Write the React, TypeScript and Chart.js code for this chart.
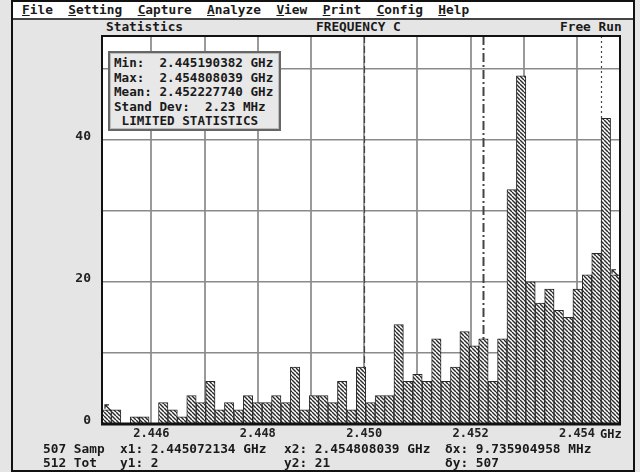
import { useEffect, useRef } from "react";
import { Chart, registerables } from "chart.js";

Chart.register(...registerables);

// ---- data ----
const binCounts = [
  2, 2, 0, 1, 1, 0, 3, 2, 1, 4, 3, 6, 2, 3,
  2, 4, 3, 3, 4, 3, 8, 2, 4, 4, 3, 6, 2, 8,
  3, 4, 4, 14, 6, 7, 6, 12, 6, 8, 13, 11, 12,
  6, 12, 33, 49, 20, 17, 19, 16, 15, 19, 21, 24, 43, 21,
];
const binLabels = binCounts.map((_, i) => `bin ${i + 1}`);
const freqStartGHz = 2.445072134; // x1
const freqEndGHz = 2.454808039; // x2
const gridFreqs = [2.446, 2.447, 2.448, 2.449, 2.45, 2.451, 2.452, 2.453, 2.454];
const xTickFreqs = [2.446, 2.448, 2.45, 2.452, 2.454];
const yGridValues = [0, 10, 20, 30, 40, 50];
const yTickLabels = [0, 20, 40];
const yMax = 54.6;
const statMeanGHz = 2.45222774;
const statStdGHz = 0.00223;
const menuItems = ["File", "Setting", "Capture", "Analyze", "View", "Print", "Config", "Help"];
const statLines = [
  "Min:  2.445190382 GHz",
  "Max:  2.454808039 GHz",
  "Mean: 2.452227740 GHz",
  "Stand Dev:  2.23 MHz",
  " LIMITED STATISTICS",
];
const infoRow1 = [
  { x: 43, t: "507 Samp" },
  { x: 120, t: "x1: 2.445072134 GHz" },
  { x: 284, t: "x2: 2.454808039 GHz" },
  { x: 445, t: "\u03b4x: 9.735904958 MHz" },
];
const infoRow2 = [
  { x: 43, t: "512 Tot" },
  { x: 120, t: "y1: 2" },
  { x: 284, t: "y2: 21" },
  { x: 445, t: "\u03b4y: 507" },
];

const MONO = '"DejaVu Sans Mono", "Liberation Mono", monospace';

export default function App() {
  const canvasRef = useRef<HTMLCanvasElement | null>(null);

  useEffect(() => {
    document.body.style.margin = "0";
    const canvas = canvasRef.current;
    if (!canvas) return;
    const ctx = canvas.getContext("2d");
    if (!ctx) return;

    const tile = document.createElement("canvas");
    tile.width = 4;
    tile.height = 4;
    const t = tile.getContext("2d")!;
    t.fillStyle = "#ffffff";
    t.fillRect(0, 0, 4, 4);
    t.strokeStyle = "#2a2a2a";
    t.lineWidth = 1.45;
    for (const k of [-1, 0, 1]) {
      t.beginPath();
      t.moveTo(k * 4, 0);
      t.lineTo(k * 4 + 4, 4);
      t.stroke();
    }
    const hatch = ctx.createPattern(tile, "repeat")!;

    const chrome = {
      id: "chrome",
      beforeDraw(chart: any) {
        const { ctx: c, chartArea: a } = chart;
        c.save();
        c.fillStyle = "#ffffff";
        c.fillRect(a.left, a.top, a.right - a.left, a.bottom - a.top);
        c.restore();
      },
      beforeDatasetsDraw(chart: any) {
        const { ctx: c, chartArea: a } = chart;
        const xs = chart.scales.xg;
        const lines = [
          { v: statMeanGHz - statStdGHz, dash: [7, 3], w: 1.2 },
          { v: statMeanGHz, dash: [9, 3, 2, 3], w: 2 },
          { v: statMeanGHz + statStdGHz, dash: [2, 3], w: 1.2 },
        ];
        c.save();
        c.strokeStyle = "#444";
        for (const l of lines) {
          const px = Math.round(xs.getPixelForValue(l.v)) + 0.5;
          c.lineWidth = l.w;
          c.setLineDash(l.dash);
          c.beginPath();
          c.moveTo(px, a.top);
          c.lineTo(px, a.bottom);
          c.stroke();
        }
        c.restore();
      },
      afterDatasetsDraw(chart: any) {
        const { ctx: c, chartArea: a } = chart;
        const xs = chart.scales.xg;
        const ys = chart.scales.y;
        c.save();
        // markers
        c.strokeStyle = "#222";
        c.lineWidth = 1.2;
        const m1x = xs.getPixelForValue(freqStartGHz) + 3;
        const m1y = ys.getPixelForValue(binCounts[0]) - 5;
        const m2x = xs.getPixelForValue(freqEndGHz) - 8;
        const m2y = ys.getPixelForValue(binCounts[binCounts.length - 1]) - 5;
        for (const [mx, my] of [[m1x, m1y], [m2x, m2y]]) {
          c.beginPath();
          c.moveTo(mx + 6, my + 6);
          c.lineTo(mx, my);
          c.moveTo(mx, my + 4);
          c.lineTo(mx, my);
          c.lineTo(mx + 4, my);
          c.stroke();
        }
        // frame
        c.strokeStyle = "#111";
        c.lineWidth = 2;
        c.strokeRect(a.left, a.top, a.right - a.left, a.bottom - a.top);
        c.lineWidth = 3;
        c.beginPath();
        c.moveTo(a.left - 1, a.bottom);
        c.lineTo(a.right + 1, a.bottom);
        c.stroke();
        c.restore();
      },
    };

    const tickFont = { family: MONO, size: 12, weight: "bold" as const };

    const chart = new Chart(canvas, {
      type: "bar",
      data: {
        labels: binLabels,
        datasets: [
          {
            data: binCounts,
            backgroundColor: hatch,
            borderColor: "#2a2a2a",
            borderWidth: 1,
            barPercentage: 1,
            categoryPercentage: 1,
            xAxisID: "x",
            yAxisID: "y",
          },
        ],
      },
      options: {
        responsive: false,
        animation: false,
        events: [],
        layout: { padding: { left: 0, top: 36, right: 20, bottom: 0 } },
        plugins: { legend: { display: false }, tooltip: { enabled: false } },
        scales: {
          x: { type: "category", display: false, offset: true },
          xg: {
            type: "linear",
            position: "bottom",
            offset: false,
            min: freqStartGHz,
            max: freqEndGHz,
            afterBuildTicks: (s: any) => {
              s.ticks = gridFreqs.map((v) => ({ value: v }));
            },
            ticks: { display: false },
            grid: { color: "#9a9a9a", lineWidth: 2, drawTicks: false, offset: false },
            border: { display: false },
            afterFit: (s: any) => {
              s.height = 0;
            },
          },
          xl: {
            type: "linear",
            position: "bottom",
            offset: false,
            min: freqStartGHz,
            max: freqEndGHz,
            afterBuildTicks: (s: any) => {
              s.ticks = xTickFreqs.map((v) => ({ value: v }));
            },
            ticks: {
              callback: (v: any) => Number(v).toFixed(3),
              font: tickFont,
              color: "#222",
              padding: 3,
              maxRotation: 0,
              autoSkip: false,
            },
            grid: { display: false, drawTicks: false, offset: false },
            border: { display: false },
            afterFit: (s: any) => {
              s.height = 48;
            },
          },
          y: {
            type: "linear",
            min: 0,
            max: yMax,
            afterBuildTicks: (s: any) => {
              s.ticks = yGridValues.map((v) => ({ value: v }));
            },
            ticks: {
              callback: (v: any) => (yTickLabels.includes(Number(v)) ? String(v) : ""),
              font: { family: MONO, size: 13, weight: "bold" as const },
              color: "#222",
              padding: 11,
              labelOffset: -3,
            },
            grid: { color: "#8a8a8a", lineWidth: 1.5, drawTicks: false },
            border: { display: false },
            afterFit: (s: any) => {
              s.width = 102;
            },
          },
        },
      } as any,
      plugins: [chrome],
    });

    return () => chart.destroy();
  }, []);

  const txt: React.CSSProperties = {
    position: "absolute",
    fontFamily: MONO,
    fontWeight: "bold",
    fontSize: "12.8px",
    lineHeight: "14px",
    whiteSpace: "pre",
    color: "#1a1a1a",
  };

  return (
    <div
      style={{
        position: "relative",
        width: 640,
        height: 472,
        background: "#e5e5e5",
        overflow: "hidden",
      }}
    >
      {/* outer frame */}
      <div
        style={{
          position: "absolute",
          left: 11,
          top: 0,
          width: 624,
          height: 472,
          border: "2px solid #111",
          boxSizing: "border-box",
        }}
      />
      {/* menu bar */}
      <div
        style={{
          position: "absolute",
          left: 13,
          top: 2,
          width: 620,
          height: 16,
          background: "#ffffff",
          borderBottom: "2px solid #444",
        }}
      />
      <div style={{ ...txt, left: 22, top: 3 }}>
        {menuItems.map((m, i) => (
          <span key={m}>
            <u>{m[0]}</u>
            {m.slice(1)}
            {i < menuItems.length - 1 ? "  " : ""}
          </span>
        ))}
      </div>
      {/* title row */}
      <div style={{ ...txt, left: 106, top: 20 }}>Statistics</div>
      <div style={{ ...txt, left: 316, top: 20 }}>FREQUENCY C</div>
      <div style={{ ...txt, left: 560, top: 20 }}>Free Run</div>

      <canvas
        ref={canvasRef}
        width={640}
        height={472}
        style={{ position: "absolute", left: 0, top: 0, width: 640, height: 472 }}
      />

      {/* statistics box */}
      <div
        style={{
          position: "absolute",
          left: 108,
          top: 51,
          width: 173,
          height: 80,
          background: "#e8e8e8",
          border: "2px solid #666",
          boxShadow: "inset 0 0 0 1px #bdbdbd",
          boxSizing: "border-box",
          padding: "3px 0 0 4px",
        }}
      >
        {statLines.map((l) => (
          <div
            key={l}
            style={{
              fontFamily: MONO,
              fontWeight: "bold",
              fontSize: "12.6px",
              lineHeight: "14.5px",
              whiteSpace: "pre",
              color: "#1a1a1a",
            }}
          >
            {l}
          </div>
        ))}
      </div>

      <div style={{ ...txt, fontSize: "12px", left: 600, top: 427 }}>GHz</div>

      {infoRow1.map((r) => (
        <div key={r.t} style={{ ...txt, left: r.x, top: 442 }}>
          {r.t}
        </div>
      ))}
      {infoRow2.map((r) => (
        <div key={r.t} style={{ ...txt, left: r.x, top: 456 }}>
          {r.t}
        </div>
      ))}
    </div>
  );
}
